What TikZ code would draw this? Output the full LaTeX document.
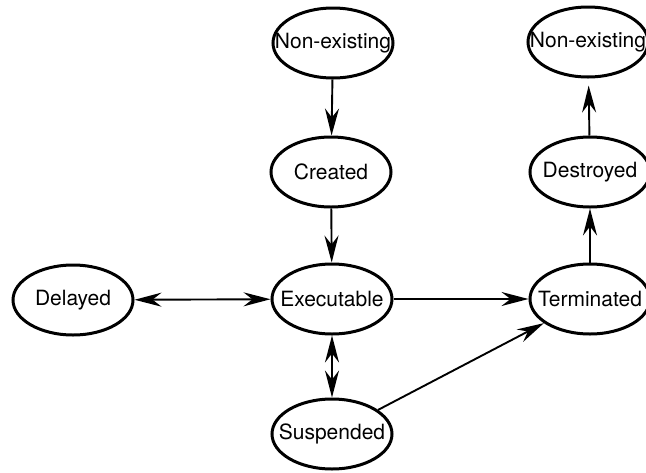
\documentclass[tikz,border=0pt]{standalone}
\usepackage{fontspec}
\setmainfont{TeX Gyre Heros}
\usetikzlibrary{arrows.meta,shapes.geometric}
\tikzset{
  state/.style={draw, ellipse, line width=3pt,
    inner xsep=-40pt, inner ysep=-20pt,
    minimum width=120pt, minimum height=70pt,
    font=\fontsize{21}{25}\selectfont},
  conn/.style={line width=1.9pt},
  tip/.tip={Stealth[length=27pt,width=14pt,inset=9pt]},
}
\begin{document}
\begin{tikzpicture}[x=1pt,y=-1pt]
  \useasboundingbox (0,0) rectangle (646,472);
  \clip (0,0) rectangle (646,472);
  % process states
  \node[state] (n1) at (333,43)  {Non-existing};
  \node[state] (cr) at (331,172) {Created};
  \node[state] (ex) at (332,299) {Executable};
  \node[state] (de) at (73,300)  {Delayed};
  \node[state] (su) at (332,434) {Suspended};
  \node[state] (te) at (590,299) {Terminated};
  \node[state] (ds) at (590,172) {Destroyed};
  \node[state] (n2) at (588,42)  {Non-existing};
  % transitions
  \draw[conn,-tip] (n1) -- (cr);
  \draw[conn,-tip] (cr) -- (ex);
  \draw[conn,tip-tip] (de) -- (ex);
  \draw[conn,tip-tip] (ex) -- (su);
  \draw[conn,-tip] (ex) -- (te);
  \draw[conn,-tip] (su) -- (te);
  \draw[conn,-tip] (te) -- (ds);
  \draw[conn,-tip,shorten >=7pt] (ds) -- (n2);
\end{tikzpicture}
\end{document}
